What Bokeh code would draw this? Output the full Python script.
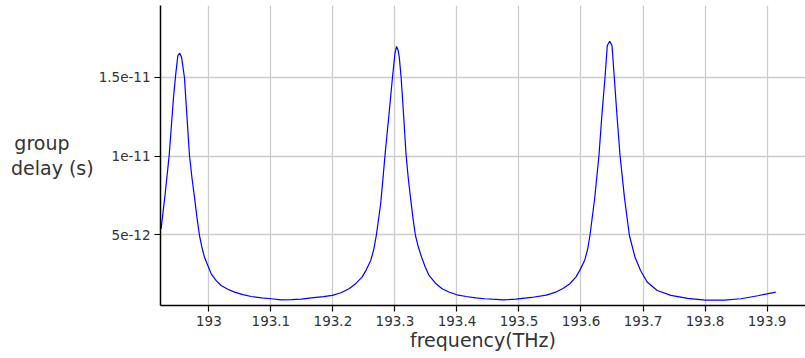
from bokeh.plotting import figure
from bokeh.models import Range1d, FixedTicker
from bokeh.embed import file_html
from bokeh.resources import INLINE

# Group delay of the resonator versus optical frequency
freq_thz = [
    192.923, 192.9295, 192.936, 192.943, 192.9466, 192.950, 192.953, 192.956,
    192.9606, 192.9647, 192.9687, 192.9728, 192.9768, 192.9808, 192.9848,
    192.9889, 192.9929, 193.0037, 193.0118, 193.0198, 193.0305, 193.0413,
    193.055, 193.0682, 193.085, 193.1005, 193.1166, 193.133, 193.1489,
    193.165, 193.185, 193.199, 193.213, 193.226, 193.237, 193.247, 193.254,
    193.261, 193.266, 193.270, 193.277, 193.2805, 193.284, 193.287, 193.290,
    193.296, 193.300, 193.3026, 193.305, 193.307, 193.310, 193.314, 193.318,
    193.3215, 193.325, 193.329, 193.333, 193.338, 193.343, 193.349, 193.355,
    193.365, 193.376, 193.388, 193.400, 193.415, 193.430, 193.445, 193.457,
    193.475, 193.495, 193.520, 193.544, 193.558, 193.571, 193.582, 193.592,
    193.598, 193.606, 193.6108, 193.6145, 193.622, 193.629, 193.6335, 193.6387,
    193.6424, 193.6463, 193.650, 193.6537, 193.658, 193.6629, 193.670,
    193.678, 193.687, 193.696, 193.707, 193.723, 193.745, 193.772, 193.800,
    193.831, 193.858, 193.885, 193.914,
]
delay_ps = [
    5.39, 7.61, 10.06, 13.75, 15.23, 16.39, 16.54, 16.29,
    15.0, 12.5, 10.06, 8.6, 7.4, 6.1, 4.98,
    4.2, 3.59, 2.53, 2.1, 1.79, 1.55, 1.37,
    1.21, 1.09, 1.01, 0.95, 0.88, 0.89, 0.92,
    1.0, 1.08, 1.16, 1.33, 1.58, 1.92, 2.32, 2.8,
    3.38, 4.1, 4.98, 6.98, 8.5, 10.06, 11.3, 12.48,
    15.0, 16.5, 16.97, 16.75, 16.29, 15.0, 12.6, 10.06,
    8.6, 7.4, 6.1, 4.98, 4.2, 3.59, 2.95, 2.43,
    1.95, 1.58, 1.36, 1.2, 1.09, 1.01, 0.95, 0.92,
    0.88, 0.92, 1.03, 1.18, 1.35, 1.6, 1.9, 2.34,
    2.75, 3.4, 4.1, 4.98, 7.3, 10.06, 12.5, 15.0,
    17.03, 17.30, 17.03, 15.0, 12.6, 10.06, 7.4,
    4.98, 3.6, 2.74, 2.0, 1.47, 1.16, 0.97, 0.86,
    0.86, 0.95, 1.14, 1.37,
]
delay_s = [v * 1e-12 for v in delay_ps]

x_ticks = [193.0, 193.1, 193.2, 193.3, 193.4, 193.5, 193.6, 193.7, 193.8, 193.9]
x_tick_labels = ["193", "193.1", "193.2", "193.3", "193.4", "193.5",
                 "193.6", "193.7", "193.8", "193.9"]
y_ticks = [5e-12, 1e-11, 1.5e-11]
y_tick_labels = ["5e-12", "1e-11", "1.5e-11"]

FONT = "DejaVu Sans"
TEXT_COLOR = "#333333"

p = figure(
    width=805, height=358,
    x_range=Range1d(192.922, 193.962),
    y_range=Range1d(0.52e-12, 19.57e-12),
    output_backend="svg", toolbar_location=None,
    min_border_left=160, min_border_right=0,
    min_border_top=5, min_border_bottom=53,
)
p.outline_line_color = None
p.background_fill_color = "white"
p.border_fill_color = "white"

p.line(freq_thz, delay_s, line_color="#0000ff", line_width=1.2)

# axes
p.xaxis.ticker = FixedTicker(ticks=x_ticks)
p.xaxis.major_label_overrides = dict(zip(x_ticks, x_tick_labels))
p.yaxis.ticker = FixedTicker(ticks=y_ticks)
p.yaxis.major_label_overrides = dict(zip(y_ticks, y_tick_labels))

for ax in (p.xaxis, p.yaxis):
    ax.axis_line_color = "black"
    ax.axis_line_width = 1.5
    ax.major_tick_line_color = "black"
    ax.major_tick_line_width = 1.2
    ax.major_tick_out = 6
    ax.major_tick_in = 0
    ax.minor_tick_line_color = None
    ax.major_label_text_font = FONT
    ax.major_label_text_font_size = "13.5px"
    ax.major_label_text_color = TEXT_COLOR
    ax.major_label_standoff = 4
    ax.axis_label_text_font = FONT
    ax.axis_label_text_font_size = "19px"
    ax.axis_label_text_font_style = "normal"
    ax.axis_label_text_color = TEXT_COLOR

p.xaxis.axis_label = "frequency(THz)"
p.xaxis.axis_label_standoff = 0

# horizontal two-line y-axis title; the first line is padded with
# no-break spaces so both lines start at the same left edge
p.yaxis.axis_label = "group" + "\u00a0" * 4 + "\ndelay (s)"
p.yaxis.axis_label_orientation = "horizontal"
p.yaxis.axis_label_standoff = 2
p.yaxis.axis_label_text_line_height = 1.1

# grid
p.xgrid.ticker = FixedTicker(ticks=x_ticks)
p.ygrid.ticker = FixedTicker(ticks=y_ticks)
for g in (p.xgrid, p.ygrid):
    g.grid_line_color = "#cccccc"
    g.grid_line_width = 1.3

open("out.html", "w").write(file_html(p, INLINE))
